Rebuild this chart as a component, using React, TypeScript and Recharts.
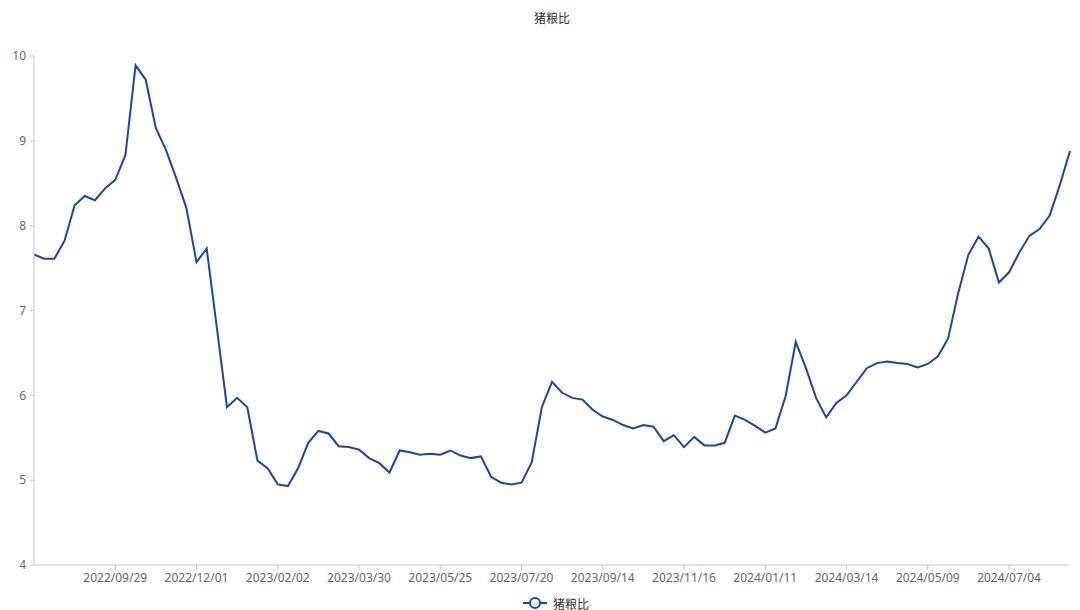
import React from 'react';
import { LineChart, Line, XAxis, YAxis } from 'recharts';

const SERIES_NAME = '猪粮比';
const TITLE = '猪粮比';

const dates: string[] = [
  '2022/08/04', '2022/08/11', '2022/08/18', '2022/08/25', '2022/09/01', '2022/09/08', '2022/09/15', '2022/09/22',
  '2022/09/29', '2022/10/13', '2022/10/20', '2022/10/27', '2022/11/03', '2022/11/10', '2022/11/17', '2022/11/24',
  '2022/12/01', '2022/12/08', '2022/12/15', '2022/12/22', '2022/12/29', '2023/01/05', '2023/01/12', '2023/01/19',
  '2023/02/02', '2023/02/09', '2023/02/16', '2023/02/23', '2023/03/02', '2023/03/09', '2023/03/16', '2023/03/23',
  '2023/03/30', '2023/04/06', '2023/04/13', '2023/04/20', '2023/04/27', '2023/05/04', '2023/05/11', '2023/05/18',
  '2023/05/25', '2023/06/01', '2023/06/08', '2023/06/15', '2023/06/22', '2023/06/29', '2023/07/06', '2023/07/13',
  '2023/07/20', '2023/07/27', '2023/08/03', '2023/08/10', '2023/08/17', '2023/08/24', '2023/08/31', '2023/09/07',
  '2023/09/14', '2023/09/21', '2023/09/28', '2023/10/12', '2023/10/19', '2023/10/26', '2023/11/02', '2023/11/09',
  '2023/11/16', '2023/11/23', '2023/11/30', '2023/12/07', '2023/12/14', '2023/12/21', '2023/12/28', '2024/01/04',
  '2024/01/11', '2024/01/18', '2024/01/25', '2024/02/01', '2024/02/08', '2024/02/22', '2024/02/29', '2024/03/07',
  '2024/03/14', '2024/03/21', '2024/03/28', '2024/04/04', '2024/04/11', '2024/04/18', '2024/04/25', '2024/05/02',
  '2024/05/09', '2024/05/16', '2024/05/23', '2024/05/30', '2024/06/06', '2024/06/13', '2024/06/20', '2024/06/27',
  '2024/07/04', '2024/07/11', '2024/07/18', '2024/07/25', '2024/08/01', '2024/08/08', '2024/08/15',
];

const ratio: number[] = [
  7.66, 7.61, 7.61, 7.82, 8.24, 8.35, 8.30, 8.44,
  8.54, 8.83, 9.89, 9.72, 9.15, 8.89, 8.56, 8.21,
  7.57, 7.73, 6.80, 5.86, 5.97, 5.86, 5.23, 5.14,
  4.95, 4.93, 5.14, 5.44, 5.58, 5.55, 5.40, 5.39,
  5.36, 5.26, 5.20, 5.09, 5.35, 5.33, 5.30, 5.31,
  5.30, 5.35, 5.29, 5.26, 5.28, 5.04, 4.97, 4.95,
  4.97, 5.21, 5.86, 6.16, 6.03, 5.97, 5.95, 5.83,
  5.75, 5.71, 5.65, 5.61, 5.65, 5.63, 5.46, 5.53,
  5.39, 5.51, 5.41, 5.41, 5.44, 5.76, 5.71, 5.64,
  5.56, 5.61, 5.99, 6.63, 6.32, 5.97, 5.74, 5.91,
  6.00, 6.16, 6.32, 6.38, 6.40, 6.38, 6.37, 6.33,
  6.37, 6.46, 6.67, 7.21, 7.66, 7.87, 7.73, 7.33,
  7.45, 7.68, 7.88, 7.96, 8.12, 8.48, 8.88,
];

const xTicks: string[] = [
  '2022/09/29', '2022/12/01', '2023/02/02', '2023/03/30', '2023/05/25', '2023/07/20',
  '2023/09/14', '2023/11/16', '2024/01/11', '2024/03/14', '2024/05/09', '2024/07/04',
];

const yTicks: number[] = [4, 5, 6, 7, 8, 9, 10];

const data = dates.map((d, i) => ({ date: d, value: ratio[i] }));

const LINE_COLOR = '#1b45a5';
const AXIS_COLOR = '#c4c4c4';
const LABEL_COLOR = '#666';
const FONT = "'Noto Sans', 'Noto Sans CJK SC', sans-serif";

export default function App() {
  return (
    <div style={{ position: 'absolute', left: 0, top: 0, width: 1080, height: 610, background: '#fff', fontFamily: FONT }}>
      <div style={{ position: 'absolute', left: 0, width: 1104, top: 9, textAlign: 'center', fontSize: 12, color: '#333', fontFamily: "'Noto Sans CJK SC', sans-serif", lineHeight: '18px' }}>
        {TITLE}
      </div>
      <LineChart width={1080} height={610} data={data} margin={{ top: 56, right: 10, left: 0, bottom: 15 }}>
        <XAxis
          dataKey="date"
          ticks={xTicks}
          interval={0}
          height={30}
          tickSize={5}
          tickMargin={3}
          axisLine={{ stroke: AXIS_COLOR }}
          tickLine={{ stroke: AXIS_COLOR }}
          tick={{ fill: LABEL_COLOR, fontSize: 12, fontFamily: FONT }}
        />
        <YAxis
          type="number"
          domain={[4, 10]}
          ticks={yTicks}
          width={34}
          tickSize={4}
          tickMargin={4}
          axisLine={{ stroke: AXIS_COLOR }}
          tickLine={{ stroke: AXIS_COLOR }}
          tick={{ fill: LABEL_COLOR, fontSize: 12, fontFamily: FONT }}
        />
        <Line
          type="linear"
          dataKey="value"
          name={SERIES_NAME}
          stroke={LINE_COLOR}
          strokeWidth={2}
          dot={false}
          activeDot={false}
          isAnimationActive={false}
        />
      </LineChart>
      <div style={{ position: 'absolute', left: 522, top: 594, height: 18, display: 'flex', alignItems: 'center' }}>
        <svg width={26} height={14} style={{ display: 'block' }}>
          <line x1={1} y1={7} x2={25} y2={7} stroke={LINE_COLOR} strokeWidth={2} />
          <circle cx={13} cy={7} r={5} fill="#fff" stroke={LINE_COLOR} strokeWidth={2} />
        </svg>
        <span style={{ marginLeft: 5, fontSize: 12, color: '#333', fontFamily: "'Noto Sans CJK SC', sans-serif" }}>{SERIES_NAME}</span>
      </div>
    </div>
  );
}
